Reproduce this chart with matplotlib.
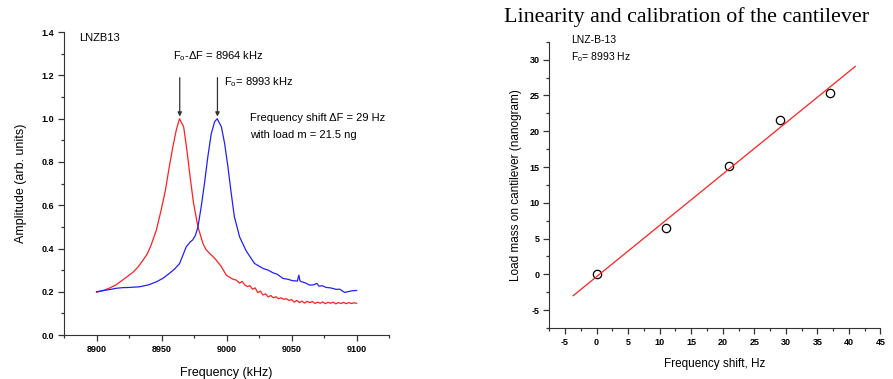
import numpy as np
import matplotlib
matplotlib.use("Agg")
import matplotlib.pyplot as plt
from matplotlib.ticker import MultipleLocator

plt.rcParams['font.family'] = ['Liberation Sans', 'DejaVu Sans']
plt.rcParams['mathtext.fontset'] = 'custom'
plt.rcParams['mathtext.rm'] = 'Liberation Sans'
plt.rcParams['mathtext.it'] = 'Liberation Sans'

# resonance curves (kHz, arb. units)
red_freq = [8900, 8905, 8910, 8915, 8920, 8924, 8928, 8932, 8935.6, 8939, 8942, 8946, 8949.7,
            8953, 8956, 8958.7, 8961.3, 8963.8, 8967, 8969.5, 8972, 8974.6, 8978, 8981.8,
            8984, 8987, 8990, 8992, 8996, 8999.8, 9003, 9005, 9007.5, 9010, 9012, 9014, 9016,
            9018, 9020, 9022, 9024, 9026, 9028, 9030, 9032, 9034, 9036, 9038, 9040, 9042,
            9044, 9046, 9048, 9050, 9052, 9054, 9056, 9058, 9060, 9062, 9064, 9066, 9068,
            9070, 9072, 9074, 9076, 9078, 9080, 9082, 9084, 9086, 9088, 9090, 9092, 9094,
            9096, 9098, 9100]
red_amp = [0.198, 0.205, 0.217, 0.232, 0.254, 0.272, 0.29, 0.315, 0.345, 0.375, 0.416, 0.485, 0.578,
           0.67, 0.78, 0.87, 0.947, 1.0, 0.963, 0.855, 0.73, 0.61, 0.50, 0.424,
           0.397, 0.377, 0.36, 0.347, 0.316, 0.277, 0.265, 0.258, 0.254, 0.24, 0.248, 0.232, 0.224,
           0.228, 0.212, 0.218, 0.196, 0.203, 0.185, 0.19, 0.176, 0.183, 0.172, 0.177, 0.168, 0.172,
           0.165, 0.168, 0.16, 0.164, 0.152, 0.16, 0.15, 0.157, 0.148, 0.156, 0.15, 0.155, 0.146,
           0.152, 0.147, 0.153, 0.145, 0.151, 0.147, 0.152, 0.144, 0.15, 0.146, 0.151, 0.145, 0.15,
           0.146, 0.149, 0.147]

blue_freq = [8900, 8905, 8910, 8915, 8920, 8925, 8933, 8940, 8946, 8951, 8956, 8960, 8963.8,
             8966.5, 8969, 8972, 8974, 8976, 8978, 8980.5, 8983, 8985.6, 8988.2, 8990.8, 8992.8,
             8996, 8998.5, 9001, 9003.6, 9006, 9008.7, 9010, 9015, 9021.5, 9028, 9032, 9035.6,
             9039, 9043.3, 9047, 9051, 9054.5, 9055.6, 9056.5, 9057.5, 9061, 9063.8, 9067,
             9069.5, 9071, 9073.5, 9076.7, 9080, 9084.4, 9087, 9090.8, 9093, 9097, 9100]
blue_amp = [0.20, 0.206, 0.21, 0.216, 0.219, 0.22, 0.223, 0.232, 0.246, 0.262, 0.285, 0.305, 0.33,
            0.37, 0.408, 0.43, 0.44, 0.46, 0.50, 0.593, 0.70, 0.824, 0.93, 0.986, 1.0,
            0.963, 0.886, 0.78, 0.655, 0.547, 0.485, 0.454, 0.39, 0.331, 0.308, 0.30, 0.288,
            0.281, 0.262, 0.258, 0.251, 0.25, 0.277, 0.25, 0.247, 0.24, 0.231, 0.232,
            0.239, 0.226, 0.228, 0.22, 0.218, 0.211, 0.212, 0.197, 0.2, 0.205, 0.206]

# calibration points
shift_hz = [0, 11, 21, 29, 37]
mass_ng = [0, 6.5, 15.1, 21.6, 25.4]
fit_range = [-3.7, 41]

fig = plt.figure(figsize=(8.93, 3.79), dpi=100)

tick_font = dict(fontsize=6.5, fontweight='bold')

# ---- left: resonance curves
ax1 = fig.add_axes([0.0717, 0.116, 0.364, 0.799])
ax1.plot(red_freq, red_amp, color='#ff2020', lw=0.9)
ax1.plot(blue_freq, blue_amp, color='#2020ff', lw=0.9)
ax1.set_xlim(8875, 9125)
ax1.set_ylim(0, 1.4)
ax1.xaxis.set_major_locator(MultipleLocator(50))
ax1.xaxis.set_minor_locator(MultipleLocator(25))
ax1.yaxis.set_major_locator(MultipleLocator(0.2))
ax1.yaxis.set_minor_locator(MultipleLocator(0.1))
ax1.set_yticklabels([f"{v:.1f}" for v in ax1.get_yticks()], **tick_font)
ax1.set_xticklabels([f"{int(v)}" for v in ax1.get_xticks()], **tick_font)
ax1.set_xlabel("Frequency (kHz)", fontsize=9)
ax1.set_ylabel("Amplitude (arb. units)", fontsize=9)
ax1.xaxis.set_label_coords(0.5, -0.105)
ax1.yaxis.set_label_coords(-0.115, 0.5)

ax1.text(0.046, 0.98, "LNZB13", transform=ax1.transAxes, fontsize=8, va='center')
ax1.text(8958.5, 1.29, r"F$_{\rm o}$-ΔF = 8964 kHz", fontsize=8, va='center')
ax1.text(8997.7, 1.17, r"F$_{\rm o}$= 8993 kHz", fontsize=8, va='center')
ax1.text(9017.7, 1.005, "Frequency shift ΔF = 29 Hz", fontsize=8, va='center')
ax1.text(9017.7, 0.925, "with load m = 21.5 ng", fontsize=8, va='center')
for fx in [8964, 8993]:
    ax1.annotate("", xy=(fx, 1.01), xytext=(fx, 1.19),
                 arrowprops=dict(arrowstyle='-|>', color='#333333', lw=0.9,
                                 mutation_scale=6, shrinkA=0, shrinkB=0))

# ---- right: calibration
ax2 = fig.add_axes([0.615, 0.1346, 0.371, 0.755])
ax2.plot(shift_hz, mass_ng, 'o', mfc='none', mec='black', ms=6, mew=0.9)
slope, icpt = np.polyfit(shift_hz, mass_ng, 1)
xf = np.array(fit_range)
ax2.plot(xf, slope * xf + icpt, color='#ff2020', lw=0.9)
ax2.set_xlim(-7.5, 45)
ax2.set_ylim(-7.5, 32.5)
ax2.xaxis.set_minor_locator(MultipleLocator(2.5))
ax2.yaxis.set_minor_locator(MultipleLocator(2.5))
ax2.set_xticks(np.arange(-5, 46, 5))
ax2.set_yticks(np.arange(-5, 31, 5))
ax2.set_xticklabels([f"{int(v)}" for v in ax2.get_xticks()], **tick_font)
ax2.set_yticklabels([f"{int(v)}" for v in ax2.get_yticks()], **tick_font)
ax2.set_xlabel("Frequency shift, Hz", fontsize=8.5)
ax2.set_ylabel("Load mass on cantilever (nanogram)", fontsize=8.5)
ax2.xaxis.set_label_coords(0.5, -0.105)
ax2.yaxis.set_label_coords(-0.082, 0.5)
ax2.text(0.066, 1.005, "LNZ-B-13", transform=ax2.transAxes, fontsize=7.5, va='center')
ax2.text(0.066, 0.945, r"F$_{\rm o}$= 8993 Hz", transform=ax2.transAxes, fontsize=7.5, va='center')

fig.text(0.769, 0.955, "Linearity and calibration of the cantilever",
         fontsize=15.8, family='Liberation Serif', ha='center', va='center')

for ax in (ax1, ax2):
    ax.spines['top'].set_visible(False)
    ax.spines['right'].set_visible(False)
    ax.spines['left'].set_color('#333333')
    ax.spines['bottom'].set_color('#333333')
    ax.tick_params(which='major', direction='out', length=4, width=0.9, color='#333333', pad=3)
    ax.tick_params(which='minor', direction='out', length=2.5, width=0.9, color='#333333')

fig.savefig("out.png", dpi=100)
